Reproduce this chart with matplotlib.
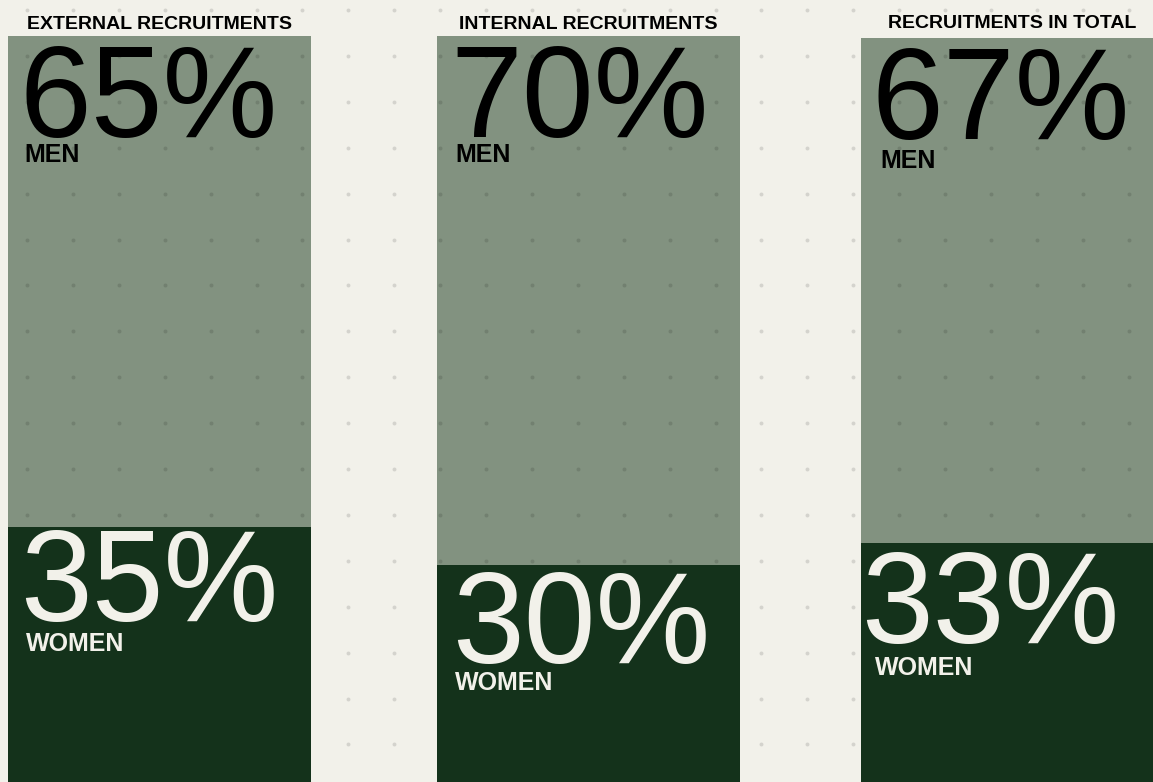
import matplotlib

matplotlib.use("Agg")
import matplotlib.pyplot as plt
import numpy as np
from matplotlib.transforms import offset_copy

plt.rcParams["font.family"] = ["Liberation Sans", "DejaVu Sans"]

# data
titles = ["EXTERNAL RECRUITMENTS", "INTERNAL RECRUITMENTS", "RECRUITMENTS IN TOTAL"]
men_pct = [65, 70, 67]
women_pct = [35, 30, 33]
men_label = "MEN"
women_label = "WOMEN"

# colours
BG = "#f2f1ea"
LIGHT = "#829280"
DARK = "#14321b"
INK = "#000000"

# layout (pixels)
W, H = 1153, 782
bar_lefts = [8, 437, 861]
bar_tops = [36, 36, 38]
bar_width = 303
bar_bottom = 791
title_gap = [7, 7, 10]
# (x offset from bar left, baseline offset below segment top)
men_num_pos = [(12, 101), (13, 101), (10, 101)]
men_lab_pos = [(16, 126), (18, 126), (19, 130)]
women_num_pos = [(12, 94), (15, 98), (0, 100)]
women_lab_pos = [(18, 124), (18, 126), (14, 132)]

fig = plt.figure(figsize=(W / 100, H / 100), dpi=100)
fig.patch.set_facecolor(BG)

bg = fig.add_axes([0, 0, 1, 1])
bg.set_xlim(0, W)
bg.set_ylim(H, 0)
bg.axis("off")

dot_x, dot_y = np.meshgrid(27 + 45.9 * np.arange(26), 10 + 45.9 * np.arange(18))
dot_style = dict(s=8, color="black", alpha=0.12, linewidths=0)
bg.scatter(dot_x.ravel(), dot_y.ravel(), **dot_style)


def place(ax, x, y, pos, text, **kw):
    dx, dy = pos
    tr = offset_copy(ax.transData, fig=fig, x=dx, y=-dy, units="dots")
    ax.text(x, y, text, transform=tr, ha="left", va="baseline", zorder=5, **kw)


for i, title in enumerate(titles):
    left, top = bar_lefts[i], bar_tops[i]
    ax = fig.add_axes([left / W, (H - bar_bottom) / H, bar_width / W, (bar_bottom - top) / H])
    ax.set_xlim(0, 1)
    ax.set_ylim(0, 100)
    ax.axis("off")
    ax.patch.set_visible(False)

    ax.bar(0.5, men_pct[i], bottom=women_pct[i], width=1, color=LIGHT, linewidth=0, zorder=1)
    ax.scatter(dot_x.ravel(), dot_y.ravel(), transform=bg.transData, zorder=2, **dot_style)
    ax.bar(0.5, women_pct[i], width=1, color=DARK, linewidth=0, zorder=3)

    place(ax, 0, 100, men_num_pos[i], f"{men_pct[i]}%", fontsize=93, color=INK)
    place(ax, 0, 100, men_lab_pos[i], men_label, fontsize=18, fontweight="bold", color=INK)
    place(ax, 0, women_pct[i], women_num_pos[i], f"{women_pct[i]}%", fontsize=93, color=BG)
    place(ax, 0, women_pct[i], women_lab_pos[i], women_label, fontsize=18, fontweight="bold", color=BG)

    title_tr = offset_copy(ax.transAxes, fig=fig, y=title_gap[i], units="dots")
    ax.text(0.5, 1, title, transform=title_tr, ha="center", va="baseline",
            fontsize=14, fontweight="bold", color=INK)

fig.savefig("out.png", dpi=100, facecolor=BG)
